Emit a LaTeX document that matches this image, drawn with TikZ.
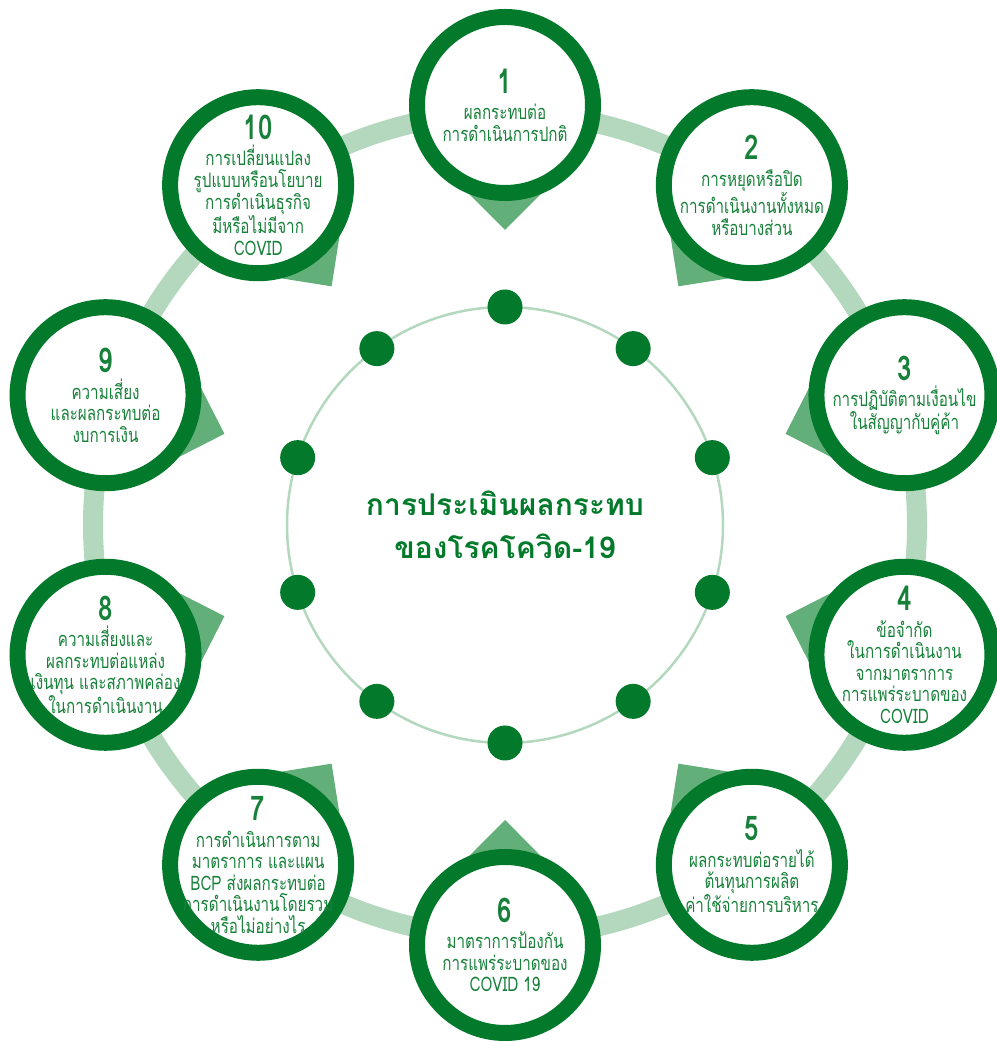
\documentclass[tikz,border=0pt]{standalone}
\usepackage{fontspec}
\newfontfamily\thaifont[Script=Thai]{Loma}
\newfontfamily\thainarrow[Script=Thai, FakeStretch=0.76]{Loma}
\usetikzlibrary{positioning,calc,backgrounds}
\definecolor{CovidGreen}{HTML}{037A2B}
\definecolor{CovidMid}{HTML}{62AF79}
\definecolor{CovidLight}{HTML}{B3D8BE}
\definecolor{CovidText}{HTML}{17813A}
\tikzset{
  bubble/.style={circle, draw=CovidGreen, line width=16pt, fill=white, minimum size=176pt, inner sep=0pt},
  bubbletext/.style={align=center, text=CovidText, inner sep=0pt, font=\thainarrow\fontsize{20}{21.5}\selectfont},
  spot/.style={circle, fill=CovidGreen, minimum size=35pt, inner sep=0pt},
  pointerfill/.style={fill=CovidMid},
  headline/.style={align=center, text=CovidGreen, font=\thaifont\bfseries\fontsize{30}{43}\selectfont}
}
\newcommand{\bnum}[1]{{\fontsize{34}{34}\selectfont\bfseries #1}\\[5pt]}

\begin{document}
\begin{tikzpicture}[x=1pt, y=1pt]
\useasboundingbox (0,0) rectangle (996,1041);
\coordinate (hub) at (505,516);
% inner ring with dots
\draw[CovidLight, line width=2.5pt] (hub) circle (218);
\node[spot] (d1) at ($(hub)+(90:218)$) {};
\node[spot] (d2) at ($(hub)+(54:218)$) {};
\node[spot] (d3) at ($(hub)+(18:218)$) {};
\node[spot] (d4) at ($(hub)+(-18:218)$) {};
\node[spot] (d5) at ($(hub)+(-54:218)$) {};
\node[spot] (d6) at ($(hub)+(-90:218)$) {};
\node[spot] (d7) at ($(hub)+(-126:218)$) {};
\node[spot] (d8) at ($(hub)+(-162:218)$) {};
\node[spot] (d9) at ($(hub)+(162:218)$) {};
\node[spot] (d10) at ($(hub)+(126:218)$) {};
\node[headline] (head) at (hub) {การประเมินผลกระทบ\\ของโรคโควิด-19};
% outer bubbles
\node[bubble] (c1) at ($(hub)+(90:420)$) {};
\node[bubble] (c2) at ($(hub)+(54:420)$) {};
\node[bubble] (c3) at ($(hub)+(18:420)$) {};
\node[bubble] (c4) at ($(hub)+(-18:420)$) {};
\node[bubble] (c5) at ($(hub)+(-54:420)$) {};
\node[bubble] (c6) at ($(hub)+(-90:420)$) {};
\node[bubble] (c7) at ($(hub)+(-126:420)$) {};
\node[bubble] (c8) at ($(hub)+(-162:420)$) {};
\node[bubble] (c9) at ($(hub)+(162:420)$) {};
\node[bubble] (c10) at ($(hub)+(126:420)$) {};
\begin{scope}[on background layer]
\draw[CovidLight, line width=20pt] (hub) circle (412);
\fill[pointerfill] ($(c1)+(270:125)$) -- ($(c1)+(326:90)$) -- ($(c1)+(214:90)$) -- cycle;
\fill[pointerfill] ($(c2)+(234:125)$) -- ($(c2)+(290:90)$) -- ($(c2)+(178:90)$) -- cycle;
\fill[pointerfill] ($(c3)+(198:125)$) -- ($(c3)+(254:90)$) -- ($(c3)+(142:90)$) -- cycle;
\fill[pointerfill] ($(c4)+(162:125)$) -- ($(c4)+(218:90)$) -- ($(c4)+(106:90)$) -- cycle;
\fill[pointerfill] ($(c5)+(126:125)$) -- ($(c5)+(182:90)$) -- ($(c5)+(70:90)$) -- cycle;
\fill[pointerfill] ($(c6)+(90:125)$) -- ($(c6)+(146:90)$) -- ($(c6)+(34:90)$) -- cycle;
\fill[pointerfill] ($(c7)+(54:125)$) -- ($(c7)+(110:90)$) -- ($(c7)+(-2:90)$) -- cycle;
\fill[pointerfill] ($(c8)+(18:125)$) -- ($(c8)+(74:90)$) -- ($(c8)+(-38:90)$) -- cycle;
\fill[pointerfill] ($(c9)+(-18:125)$) -- ($(c9)+(38:90)$) -- ($(c9)+(-74:90)$) -- cycle;
\fill[pointerfill] ($(c10)+(-54:125)$) -- ($(c10)+(2:90)$) -- ($(c10)+(-110:90)$) -- cycle;
\end{scope}
% bubble texts
\node[bubbletext] (t1) at (c1) {\bnum{1}ผลกระทบต่อ\\การดำเนินการปกติ};
\node[bubbletext] (t2) at (c2) {\bnum{2}การหยุดหรือปิด\\การดำเนินงานทั้งหมด\\หรือบางส่วน};
\node[bubbletext] (t3) at (c3) {\bnum{3}การปฏิบัติตามเงื่อนไข\\ในสัญญากับคู่ค้า};
\node[bubbletext] (t4) at (c4) {\bnum{4}ข้อจำกัด\\ในการดำเนินงาน\\จากมาตราการ\\การแพร่ระบาดของ\\COVID};
\node[bubbletext] (t5) at (c5) {\bnum{5}ผลกระทบต่อรายได้\\ต้นทุนการผลิต\\ค่าใช้จ่ายการบริหาร};
\node[bubbletext] (t6) at (c6) {\bnum{6}มาตราการป้องกัน\\การแพร่ระบาดของ\\COVID 19};
\node[bubbletext] (t7) at (c7) {\bnum{7}การดำเนินการตาม\\มาตราการ และแผน\\BCP ส่งผลกระทบต่อ\\การดำเนินงานโดยรวม\\หรือไม่อย่างไร};
\node[bubbletext] (t8) at (c8) {\bnum{8}ความเสี่ยงและ\\ผลกระทบต่อแหล่ง\\เงินทุน และสภาพคล่อง\\ในการดำเนินงาน};
\node[bubbletext] (t9) at (c9) {\bnum{9}ความเสี่ยง\\และผลกระทบต่อ\\งบการเงิน};
\node[bubbletext] (t10) at (c10) {\bnum{10}การเปลี่ยนแปลง\\รูปแบบหรือนโยบาย\\การดำเนินธุรกิจ\\มีหรือไม่มีจาก\\COVID};
\end{tikzpicture}
\end{document}
